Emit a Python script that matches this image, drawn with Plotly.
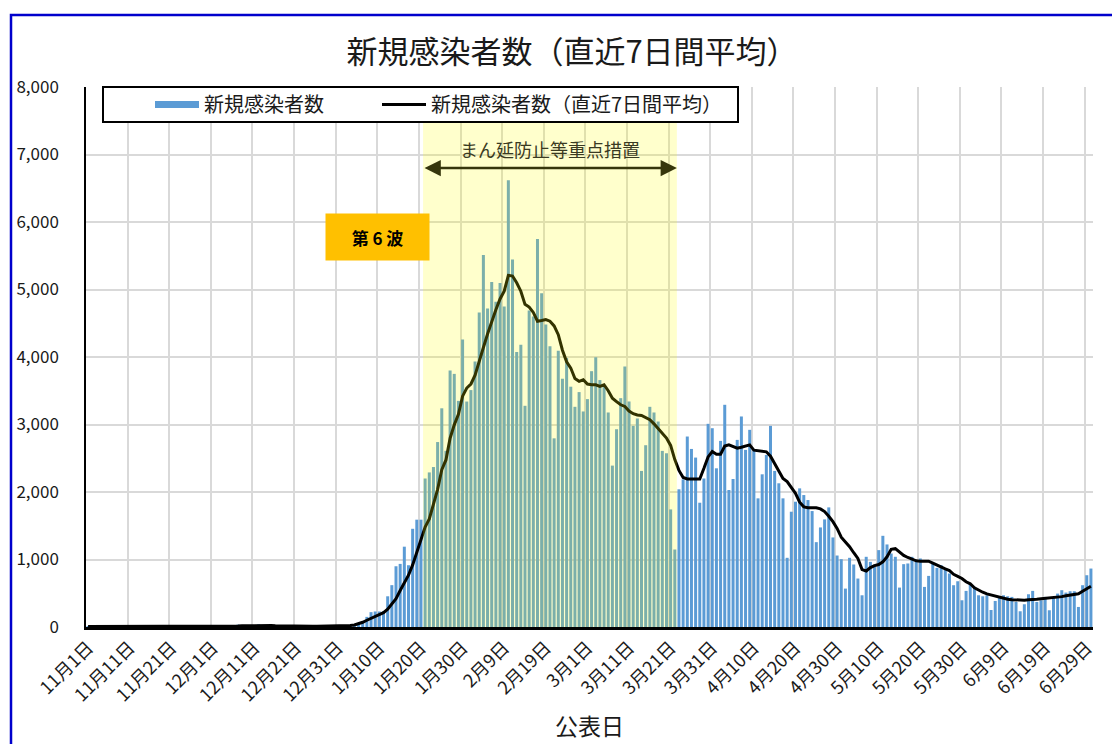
import pandas as pd
import plotly.graph_objects as go

# ---------------- data ----------------
start_date = "2021-11-01"
end_date = "2022-06-30"
dates = pd.date_range(start_date, end_date, freq="D")

cases_nov = [9, 12, 7, 10, 14, 8, 6, 11, 13, 9, 8, 10, 7, 5, 9, 11, 8, 6, 7, 10, 5, 4, 6, 8, 7, 5, 6, 4, 3, 5]
cases_dec = [4, 6, 5, 8, 12, 30, 35, 22, 18, 15, 25, 40, 28, 20, 14, 10, 12, 9, 8, 11, 10, 9, 12, 14, 11, 10, 13, 15, 18, 16, 14]
cases_jan = [15, 20, 25, 35, 50, 85, 150, 220, 230, 230, 235, 455, 620, 900, 935, 1190, 915, 1455, 1590, 1590,
             2200, 2290, 2370, 2740, 3240, 2610, 3800, 3750, 3350, 4260, 3340]
cases_feb = [3510, 3935, 4660, 5510, 4720, 5110, 4820, 5095, 4750, 6620, 5445, 4075, 4180, 3277, 4688, 4600,
             5747, 4945, 4480, 4160, 2795, 4094, 3678, 3985, 3560, 3262, 3480, 3193]
cases_mar = [3376, 3790, 3995, 3658, 3560, 3178, 2391, 2930, 3390, 3861, 3341, 2980, 3089, 2312, 2693, 3262,
             3178, 3044, 2609, 2574, 1742, 1148, 2040, 2188, 2822, 2638, 2510, 1841, 2200, 3010, 2945]
cases_apr = [2351, 2757, 3292, 2030, 2193, 2772, 3119, 2624, 2921, 2624, 1906, 2262, 2549, 2980, 2312, 2129,
             1906, 1025, 1708, 1856, 2054, 1955, 1881, 1718, 1257, 1475, 1594, 1772, 1327, 1059]
cases_may = [1005, 569, 1025, 926, 718, 470, 1040, 965, 926, 1139, 1351, 1223, 1089, 1040, 584, 931, 941, 1040,
             965, 1015, 594, 757, 941, 876, 916, 866, 792, 619, 678, 396, 535]
cases_jun = [634, 594, 470, 455, 470, 252, 386, 446, 470, 455, 446, 371, 233, 337, 485, 535, 371, 396, 446, 248,
             431, 495, 545, 510, 530, 530, 297, 619, 767, 866]

avg_nov = [9, 9, 10, 10, 10, 10, 10, 10, 10, 10, 10, 9, 9, 9, 9, 9, 8, 8, 8, 8, 8, 7, 7, 7, 6, 6, 6, 6, 5, 5]
avg_dec = [5, 5, 5, 5, 6, 10, 14, 17, 19, 20, 22, 25, 26, 25, 23, 20, 18, 16, 13, 12, 11, 10, 10, 10, 11, 11, 12,
           12, 13, 14, 14]
avg_jan = [15, 18, 22, 30, 45, 70, 100, 130, 160, 190, 213, 265, 340, 420, 540, 650, 767, 920, 1100, 1290, 1480,
           1600, 1807, 2040, 2330, 2475, 2797, 2995, 3150, 3420, 3540]
avg_feb = [3600, 3730, 3950, 4140, 4340, 4530, 4700, 4860, 4975, 5210, 5200, 5100, 4975, 4780, 4740, 4660, 4530,
           4540, 4554, 4530, 4460, 4330, 4100, 3930, 3836, 3680, 3640, 3663]
avg_mar = [3600, 3589, 3589, 3564, 3589, 3500, 3390, 3340, 3292, 3267, 3200, 3160, 3140, 3133, 3100, 3070, 3010,
           2940, 2870, 2800, 2690, 2480, 2320, 2215, 2193, 2193, 2193, 2193, 2351, 2520, 2600]
avg_apr = [2560, 2560, 2680, 2700, 2670, 2650, 2663, 2680, 2698, 2620, 2612, 2609, 2595, 2530, 2420, 2320, 2200,
           2153, 2060, 1980, 1850, 1780, 1767, 1767, 1767, 1750, 1710, 1640, 1560, 1460]
avg_may = [1330, 1260, 1190, 1100, 1015, 850, 830, 880, 910, 926, 965, 1040, 1150, 1160, 1110, 1060, 1030, 1000,
           980, 975, 975, 975, 945, 915, 880, 860, 835, 780, 750, 718, 670]
avg_jun = [640, 580, 545, 515, 490, 475, 450, 435, 425, 412, 405, 400, 398, 398, 405, 405, 410, 420, 425, 431,
           435, 440, 450, 462, 475, 485, 492, 530, 565, 604]

daily_cases = cases_nov + cases_dec + cases_jan + cases_feb + cases_mar + cases_apr + cases_may + cases_jun
avg_7day = avg_nov + avg_dec + avg_jan + avg_feb + avg_mar + avg_apr + avg_may + avg_jun

tick_dates = ["2021-11-01", "2021-11-11", "2021-11-21", "2021-12-01", "2021-12-11", "2021-12-21", "2021-12-31",
              "2022-01-10", "2022-01-20", "2022-01-30", "2022-02-09", "2022-02-19", "2022-03-01", "2022-03-11",
              "2022-03-21", "2022-03-31", "2022-04-10", "2022-04-20", "2022-04-30", "2022-05-10", "2022-05-20",
              "2022-05-30", "2022-06-09", "2022-06-19", "2022-06-29"]
tick_labels = ["11月1日", "11月11日", "11月21日", "12月1日", "12月11日", "12月21日", "12月31日",
               "1月10日", "1月20日", "1月30日", "2月9日", "2月19日", "3月1日", "3月11日",
               "3月21日", "3月31日", "4月10日", "4月20日", "4月30日", "5月10日", "5月20日",
               "5月30日", "6月9日", "6月19日", "6月29日"]

band_start = "2022-01-21"
band_end = "2022-03-22"
band_label = "まん延防止等重点措置"
wave_label = "第 6 波"

title_text = "新規感染者数（直近7日間平均）"
bar_name = "新規感染者数"
line_name = "新規感染者数（直近7日間平均）"
x_title = "公表日"

# ---------------- figure ----------------
FONT = "Noto Sans CJK JP, Meiryo, sans-serif"
half_day = pd.Timedelta(hours=12)
x_lo = dates[0] - half_day
x_hi = dates[-1] + half_day
b0 = pd.Timestamp(band_start) - half_day
b1 = pd.Timestamp(band_end) + half_day
grid_pos = [pd.Timestamp(d) - half_day for d in tick_dates]

fig = go.Figure()
fig.add_trace(go.Bar(x=dates, y=daily_cases, name=bar_name, marker=dict(color="#5B9BD5", line_width=0),
                     showlegend=False))
fig.add_trace(go.Scatter(x=[None], y=[None], mode="lines", name=bar_name, legend="legend",
                         line=dict(color="#5B9BD5", width=7)))
fig.add_trace(go.Scatter(x=dates, y=avg_7day, mode="lines", name=line_name, legend="legend2",
                         line=dict(color="black", width=3)))

# page body adds an 8px offset; work in screen pixels
OFF = 8
W, H = 1120, 744
PL, PR, PT, PB = 86, 1093, 87, 627          # plot area in screen px
ML, MT = PL - OFF, PT - OFF
MR = W + OFF - PR
MB = H + OFF - PB
PW, PH = PR - PL, PB - PT


def px(xs):
    return (xs - PL) / PW


def py(ys):
    return (PB - ys) / PH


legend_common = dict(orientation="h", xanchor="left", y=py(104.5), yanchor="middle",
                     bgcolor="rgba(0,0,0,0)", borderwidth=0, font=dict(size=20, color="#1a1a1a"),
                     itemwidth=44)

fig.update_layout(
    width=W, height=H,
    margin=dict(l=ML, r=MR, t=MT, b=MB, autoexpand=False),
    paper_bgcolor="white", plot_bgcolor="white",
    font=dict(family=FONT, color="black"),
    bargap=0.28,
    title=dict(text=title_text, x=(572 - OFF) / W, xanchor="center", y=1 - (52 - OFF) / H, yanchor="middle",
               font=dict(size=31, color="#1a1a1a", family=FONT)),
    legend=dict(x=px(150), **legend_common),
    legend2=dict(x=px(377), **legend_common),
    showlegend=True,
)

fig.update_xaxes(
    type="date", range=[x_lo, x_hi], automargin=False,
    tickmode="array", tickvals=tick_dates, ticktext=tick_labels, tickangle=-45,
    tickfont=dict(size=18, color="#1a1a1a"),
    showgrid=False, ticks="",
    minor=dict(tickmode="array", tickvals=grid_pos, showgrid=True, gridcolor="#D9D9D9", gridwidth=1.5, ticks=""),
    showline=True, linecolor="black", linewidth=3,
    title=dict(text=x_title, font=dict(size=23, color="#1a1a1a"), standoff=14),
)
fig.update_yaxes(
    range=[0, 8000], dtick=1000, tickformat=",", automargin=False,
    showgrid=True, gridcolor="#D9D9D9", gridwidth=1.5, zeroline=False,
    showline=True, linecolor="black", linewidth=1.5,
    ticks="outside", ticklen=22, tickcolor="rgba(0,0,0,0)",
    tickfont=dict(size=17, color="#1a1a1a"),
)

fig.add_shape(type="rect", xref="x", yref="y", x0=b0, x1=b1, y0=0, y1=8000,
              fillcolor="rgba(255,255,0,0.2)", line_width=0, layer="above")
fig.add_shape(type="rect", xref="paper", yref="paper", x0=px(103), x1=px(738), y0=py(122), y1=py(87),
              fillcolor="white", line=dict(color="black", width=2), layer="above")
fig.add_shape(type="rect", xref="paper", yref="paper", x0=px(11), x1=px(1200), y0=py(900), y1=py(15),
              fillcolor="rgba(0,0,0,0)", line=dict(color="#0000CC", width=2.5), layer="below")

fig.add_annotation(x=b1, y=6800, ax=b0, ay=6800, xref="x", yref="y", axref="x", ayref="y",
                   text="", showarrow=True, arrowhead=2, arrowside="end+start", arrowsize=1.3,
                   arrowwidth=2.5, arrowcolor="#36360c", standoff=0, startstandoff=0)
fig.add_annotation(x=b0 + (b1 - b0) / 2, y=7080, xref="x", yref="y", text=band_label, showarrow=False,
                   font=dict(size=18, color="#3a3a22"))
fig.add_annotation(x=px(377.5), y=py(237), xref="paper", yref="paper", text="<b>" + wave_label + "</b>",
                   showarrow=False, bgcolor="#FFC000", width=101, height=44, font=dict(size=17, color="black"),
                   xanchor="center", yanchor="middle")

fig.write_html("out.html")
